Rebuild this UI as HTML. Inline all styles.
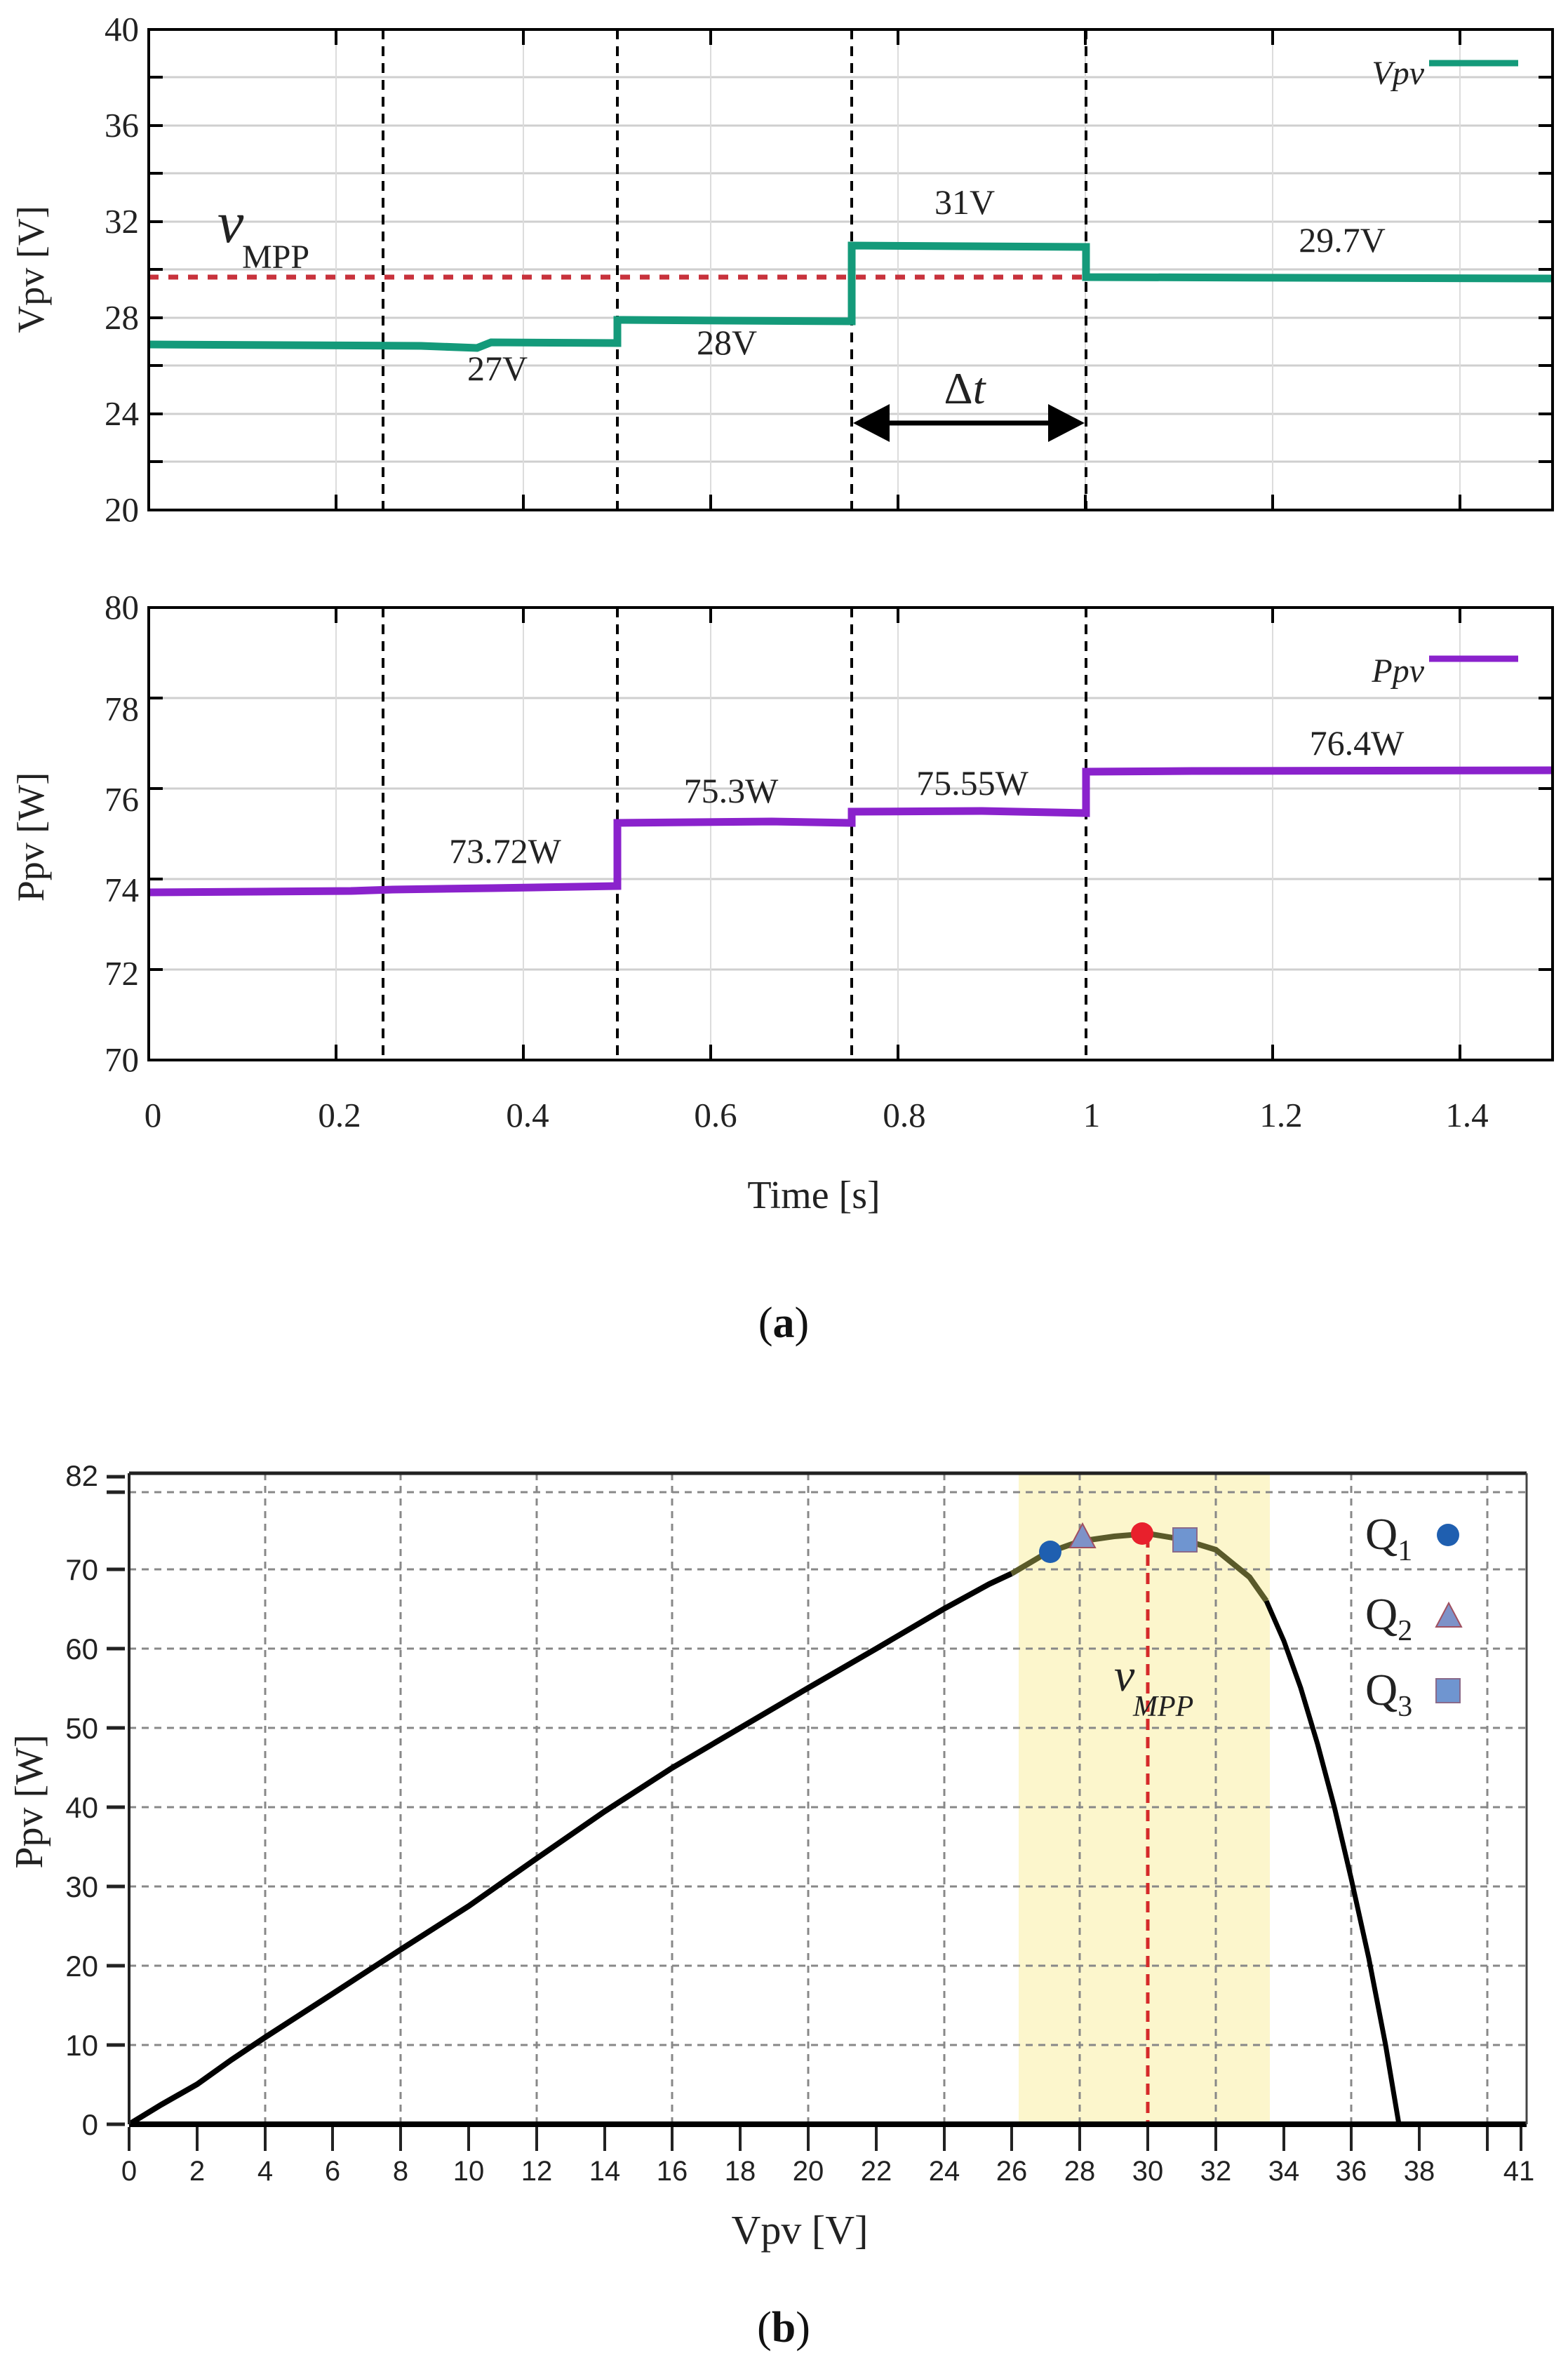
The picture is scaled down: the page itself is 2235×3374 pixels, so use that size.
<!DOCTYPE html>
<html><head><meta charset="utf-8"><style>html,body{margin:0;padding:0;background:#fff}svg{display:block}</style></head>
<body>
<svg width="2235" height="3374" viewBox="0 0 2235 3374" xmlns="http://www.w3.org/2000/svg">
<rect width="2235" height="3374" fill="#fff"/>
<!-- ===== TOP CHART (Vpv) ===== -->
<g stroke="#cfcfcf" stroke-width="3">
<line x1="212" y1="110" x2="2213" y2="110"/><line x1="212" y1="179" x2="2213" y2="179"/><line x1="212" y1="247" x2="2213" y2="247"/><line x1="212" y1="316" x2="2213" y2="316"/><line x1="212" y1="384" x2="2213" y2="384"/><line x1="212" y1="453" x2="2213" y2="453"/><line x1="212" y1="521" x2="2213" y2="521"/><line x1="212" y1="590" x2="2213" y2="590"/><line x1="212" y1="658" x2="2213" y2="658"/>
</g>
<g stroke="#dcdcdc" stroke-width="2">
<line x1="479" y1="42" x2="479" y2="727"/><line x1="746" y1="42" x2="746" y2="727"/><line x1="1013" y1="42" x2="1013" y2="727"/><line x1="1280" y1="42" x2="1280" y2="727"/><line x1="1547" y1="42" x2="1547" y2="727"/><line x1="1814" y1="42" x2="1814" y2="727"/><line x1="2081" y1="42" x2="2081" y2="727"/>
</g>
<g stroke="#000" stroke-width="4">
<line x1="212" y1="110" x2="232" y2="110"/><line x1="212" y1="179" x2="232" y2="179"/><line x1="212" y1="247" x2="232" y2="247"/><line x1="212" y1="316" x2="232" y2="316"/><line x1="212" y1="384" x2="232" y2="384"/><line x1="212" y1="453" x2="232" y2="453"/><line x1="212" y1="521" x2="232" y2="521"/><line x1="212" y1="590" x2="232" y2="590"/><line x1="212" y1="658" x2="232" y2="658"/>
<line x1="2193" y1="110" x2="2213" y2="110"/><line x1="2193" y1="179" x2="2213" y2="179"/><line x1="2193" y1="247" x2="2213" y2="247"/><line x1="2193" y1="316" x2="2213" y2="316"/><line x1="2193" y1="384" x2="2213" y2="384"/><line x1="2193" y1="453" x2="2213" y2="453"/><line x1="2193" y1="521" x2="2213" y2="521"/><line x1="2193" y1="590" x2="2213" y2="590"/><line x1="2193" y1="658" x2="2213" y2="658"/>
<line x1="479" y1="42" x2="479" y2="64"/><line x1="746" y1="42" x2="746" y2="64"/><line x1="1013" y1="42" x2="1013" y2="64"/><line x1="1280" y1="42" x2="1280" y2="64"/><line x1="1547" y1="42" x2="1547" y2="64"/><line x1="1814" y1="42" x2="1814" y2="64"/><line x1="2081" y1="42" x2="2081" y2="64"/>
<line x1="479" y1="705" x2="479" y2="727"/><line x1="746" y1="705" x2="746" y2="727"/><line x1="1013" y1="705" x2="1013" y2="727"/><line x1="1280" y1="705" x2="1280" y2="727"/><line x1="1547" y1="705" x2="1547" y2="727"/><line x1="1814" y1="705" x2="1814" y2="727"/><line x1="2081" y1="705" x2="2081" y2="727"/>
</g>
<g stroke="#000" stroke-width="4" stroke-dasharray="14,10">
<line x1="546" y1="42" x2="546" y2="727"/><line x1="880" y1="42" x2="880" y2="727"/><line x1="1214" y1="42" x2="1214" y2="727"/><line x1="1548" y1="42" x2="1548" y2="727"/>
</g>
<line x1="212" y1="395" x2="2213" y2="395" stroke="#c8323c" stroke-width="7" stroke-dasharray="14,14"/>
<path d="M212,491 L600,493 L680,496 L700,488 L880,489 L880,456 L1214,458 L1214,350 L1548,352 L1548,395 L2213,397" fill="none" stroke="#149a7a" stroke-width="11"/>
<rect x="212" y="42" width="2001" height="685" fill="none" stroke="#000" stroke-width="4"/>
<g font-family="Liberation Serif, serif" font-size="49" fill="#222" text-anchor="end">
<text x="198" y="58">40</text><text x="198" y="195">36</text><text x="198" y="332">32</text><text x="198" y="469">28</text><text x="198" y="606">24</text><text x="198" y="743">20</text>
</g>
<text transform="translate(62,384) rotate(-90)" font-family="Liberation Serif, serif" font-size="54" fill="#222" text-anchor="middle">Vpv [V]</text>
<g font-family="Liberation Serif, serif" font-size="50" fill="#222" text-anchor="middle">
<text x="709" y="542">27V</text><text x="1036" y="505">28V</text><text x="1375" y="305">31V</text><text x="1913" y="359">29.7V</text>
</g>
<text x="310" y="345" font-family="Liberation Serif, serif" font-size="84" font-style="italic" fill="#222">v</text>
<text x="345" y="382" font-family="Liberation Serif, serif" font-size="48" fill="#222">MPP</text>
<text x="1375" y="575" font-family="Liberation Serif, serif" font-size="64" fill="#222" text-anchor="middle">Δ<tspan font-style="italic">t</tspan></text>
<line x1="1260" y1="603" x2="1500" y2="603" stroke="#000" stroke-width="7"/>
<polygon points="1216,603 1268,576 1268,630" fill="#000"/>
<polygon points="1546,603 1494,576 1494,630" fill="#000"/>
<text x="2030" y="120" font-family="Liberation Serif, serif" font-size="48" font-style="italic" fill="#222" text-anchor="end">Vpv</text>
<line x1="2037" y1="90" x2="2164" y2="90" stroke="#149a7a" stroke-width="9"/>

<!-- ===== MIDDLE CHART (Ppv) ===== -->
<g stroke="#cfcfcf" stroke-width="3">
<line x1="212" y1="995" x2="2213" y2="995"/><line x1="212" y1="1124" x2="2213" y2="1124"/><line x1="212" y1="1253" x2="2213" y2="1253"/><line x1="212" y1="1382" x2="2213" y2="1382"/>
</g>
<g stroke="#dcdcdc" stroke-width="2">
<line x1="479" y1="866" x2="479" y2="1511"/><line x1="746" y1="866" x2="746" y2="1511"/><line x1="1013" y1="866" x2="1013" y2="1511"/><line x1="1280" y1="866" x2="1280" y2="1511"/><line x1="1814" y1="866" x2="1814" y2="1511"/><line x1="2081" y1="866" x2="2081" y2="1511"/>
</g>
<g stroke="#000" stroke-width="4">
<line x1="212" y1="995" x2="232" y2="995"/><line x1="212" y1="1124" x2="232" y2="1124"/><line x1="212" y1="1253" x2="232" y2="1253"/><line x1="212" y1="1382" x2="232" y2="1382"/>
<line x1="2193" y1="995" x2="2213" y2="995"/><line x1="2193" y1="1124" x2="2213" y2="1124"/><line x1="2193" y1="1253" x2="2213" y2="1253"/><line x1="2193" y1="1382" x2="2213" y2="1382"/>
<line x1="479" y1="866" x2="479" y2="888"/><line x1="746" y1="866" x2="746" y2="888"/><line x1="1013" y1="866" x2="1013" y2="888"/><line x1="1280" y1="866" x2="1280" y2="888"/><line x1="1814" y1="866" x2="1814" y2="888"/><line x1="2081" y1="866" x2="2081" y2="888"/>
<line x1="479" y1="1489" x2="479" y2="1511"/><line x1="746" y1="1489" x2="746" y2="1511"/><line x1="1013" y1="1489" x2="1013" y2="1511"/><line x1="1280" y1="1489" x2="1280" y2="1511"/><line x1="1814" y1="1489" x2="1814" y2="1511"/><line x1="2081" y1="1489" x2="2081" y2="1511"/>
</g>
<g stroke="#000" stroke-width="4" stroke-dasharray="14,10">
<line x1="546" y1="866" x2="546" y2="1511"/><line x1="880" y1="866" x2="880" y2="1511"/><line x1="1214" y1="866" x2="1214" y2="1511"/><line x1="1548" y1="866" x2="1548" y2="1511"/>
</g>
<path d="M212,1272 L500,1270 L560,1268 L700,1266 L880,1263 L880,1173 L1100,1171 L1214,1173 L1214,1157 L1400,1156 L1548,1159 L1548,1100 L1700,1099 L2213,1098" fill="none" stroke="#8a22cc" stroke-width="11"/>
<rect x="212" y="866" width="2001" height="645" fill="none" stroke="#000" stroke-width="4"/>
<g font-family="Liberation Serif, serif" font-size="49" fill="#222" text-anchor="end">
<text x="198" y="882">80</text><text x="198" y="1027">78</text><text x="198" y="1156">76</text><text x="198" y="1285">74</text><text x="198" y="1404">72</text><text x="198" y="1527">70</text>
</g>
<text transform="translate(62,1193) rotate(-90)" font-family="Liberation Serif, serif" font-size="54" fill="#222" text-anchor="middle">Ppv [W]</text>
<g font-family="Liberation Serif, serif" font-size="50" fill="#222" text-anchor="middle">
<text x="720" y="1230">73.72W</text><text x="1042" y="1144">75.3W</text><text x="1386" y="1133">75.55W</text><text x="1934" y="1076">76.4W</text>
</g>
<text x="2030" y="972" font-family="Liberation Serif, serif" font-size="48" font-style="italic" fill="#222" text-anchor="end">Ppv</text>
<line x1="2037" y1="939" x2="2164" y2="939" stroke="#8a22cc" stroke-width="9"/>
<g font-family="Liberation Serif, serif" font-size="49" fill="#222" text-anchor="middle">
<text x="218" y="1606">0</text><text x="484" y="1606">0.2</text><text x="752" y="1606">0.4</text><text x="1020" y="1606">0.6</text><text x="1289" y="1606">0.8</text><text x="1556" y="1606">1</text><text x="1826" y="1606">1.2</text><text x="2091" y="1606">1.4</text>
</g>
<text x="1160" y="1722" font-family="Liberation Serif, serif" font-size="56" fill="#222" text-anchor="middle">Time [s]</text>
<text x="1117" y="1906" font-family="Liberation Serif, serif" font-size="62" fill="#111" text-anchor="middle">(<tspan font-weight="bold">a</tspan>)</text>

<!-- ===== BOTTOM CHART (b) ===== -->
<rect x="1452" y="2100" width="358" height="928" fill="#fcf6cc"/>
<g stroke="#888" stroke-width="3" stroke-dasharray="10,8">
<line x1="184" y1="2127" x2="2176" y2="2127"/><line x1="184" y1="2237" x2="2176" y2="2237"/><line x1="184" y1="2350" x2="2176" y2="2350"/><line x1="184" y1="2463" x2="2176" y2="2463"/><line x1="184" y1="2576" x2="2176" y2="2576"/><line x1="184" y1="2689" x2="2176" y2="2689"/><line x1="184" y1="2802" x2="2176" y2="2802"/><line x1="184" y1="2915" x2="2176" y2="2915"/>
<line x1="378" y1="2100" x2="378" y2="3028"/><line x1="571" y1="2100" x2="571" y2="3028"/><line x1="765" y1="2100" x2="765" y2="3028"/><line x1="958" y1="2100" x2="958" y2="3028"/><line x1="1152" y1="2100" x2="1152" y2="3028"/><line x1="1346" y1="2100" x2="1346" y2="3028"/><line x1="1539" y1="2100" x2="1539" y2="3028"/><line x1="1733" y1="2100" x2="1733" y2="3028"/><line x1="1926" y1="2100" x2="1926" y2="3028"/><line x1="2120" y1="2100" x2="2120" y2="3028"/>
</g>
<line x1="1636" y1="2190" x2="1636" y2="3028" stroke="#d52a2a" stroke-width="5" stroke-dasharray="16,10"/>
<path d="M184,3028 L230,3000 L281,2971 L330,2936 L378,2904 L474,2842 L571,2779 L668,2717 L765,2649 L862,2582 L958,2520 L1055,2463 L1152,2406 L1249,2350 L1346,2293 L1410,2258 L1442,2243" fill="none" stroke="#000" stroke-width="8"/>
<path d="M1442,2243 L1491,2214 L1539,2197 L1588,2190 L1636,2186 L1684,2194 L1733,2209 L1781,2248 L1805,2282" fill="none" stroke="#5a5a2a" stroke-width="8"/>
<path d="M1805,2282 L1830,2339 L1854,2406 L1878,2486 L1902,2576 L1926,2678 L1951,2791 L1975,2915 L1994,3028" fill="none" stroke="#000" stroke-width="7"/>
<line x1="184" y1="3028" x2="2176" y2="3028" stroke="#000" stroke-width="8"/>
<line x1="184" y1="2100" x2="2176" y2="2100" stroke="#222" stroke-width="5"/>
<line x1="184" y1="2100" x2="184" y2="3028" stroke="#222" stroke-width="4"/>
<line x1="2176" y1="2100" x2="2176" y2="3028" stroke="#444" stroke-width="3"/>
<circle cx="1497" cy="2212" r="16" fill="#1f5fb0"/>
<polygon points="1543,2172 1561,2206 1525,2206" fill="#7e92c8" stroke="#a05060" stroke-width="2"/>
<circle cx="1628" cy="2186" r="16" fill="#e8202c"/>
<rect x="1672" y="2178" width="34" height="34" fill="#6f95d0" stroke="#8a6a8a" stroke-width="2"/>
<text x="1588" y="2410" font-family="Liberation Serif, serif" font-size="66" font-style="italic" fill="#222">v</text>
<text x="1615" y="2446" font-family="Liberation Serif, serif" font-size="42" font-style="italic" fill="#222">MPP</text>
<g font-family="Liberation Serif, serif" fill="#222">
<text x="1946" y="2208" font-size="64">Q<tspan font-size="42" dy="16">1</tspan></text>
<text x="1946" y="2322" font-size="64">Q<tspan font-size="42" dy="16">2</tspan></text>
<text x="1946" y="2430" font-size="64">Q<tspan font-size="42" dy="16">3</tspan></text>
</g>
<circle cx="2064" cy="2188" r="16" fill="#1f5fb0"/>
<polygon points="2065,2285 2083,2319 2047,2319" fill="#7e92c8" stroke="#a05060" stroke-width="2"/>
<rect x="2047" y="2393" width="34" height="34" fill="#6f95d0" stroke="#8a6a8a" stroke-width="2"/>
<g stroke="#222" stroke-width="5">
<line x1="152" y1="2105" x2="178" y2="2105"/><line x1="152" y1="2127" x2="178" y2="2127"/><line x1="152" y1="2237" x2="178" y2="2237"/><line x1="152" y1="2350" x2="178" y2="2350"/><line x1="152" y1="2463" x2="178" y2="2463"/><line x1="152" y1="2576" x2="178" y2="2576"/><line x1="152" y1="2689" x2="178" y2="2689"/><line x1="152" y1="2802" x2="178" y2="2802"/><line x1="152" y1="2915" x2="178" y2="2915"/><line x1="152" y1="3028" x2="178" y2="3028"/>
</g>
<g stroke="#222" stroke-width="4">
<line x1="184" y1="3032" x2="184" y2="3066"/><line x1="281" y1="3032" x2="281" y2="3066"/><line x1="378" y1="3032" x2="378" y2="3066"/><line x1="474" y1="3032" x2="474" y2="3066"/><line x1="571" y1="3032" x2="571" y2="3066"/><line x1="668" y1="3032" x2="668" y2="3066"/><line x1="765" y1="3032" x2="765" y2="3066"/><line x1="862" y1="3032" x2="862" y2="3066"/><line x1="958" y1="3032" x2="958" y2="3066"/><line x1="1055" y1="3032" x2="1055" y2="3066"/><line x1="1152" y1="3032" x2="1152" y2="3066"/><line x1="1249" y1="3032" x2="1249" y2="3066"/><line x1="1346" y1="3032" x2="1346" y2="3066"/><line x1="1442" y1="3032" x2="1442" y2="3066"/><line x1="1539" y1="3032" x2="1539" y2="3066"/><line x1="1636" y1="3032" x2="1636" y2="3066"/><line x1="1733" y1="3032" x2="1733" y2="3066"/><line x1="1830" y1="3032" x2="1830" y2="3066"/><line x1="1926" y1="3032" x2="1926" y2="3066"/><line x1="2023" y1="3032" x2="2023" y2="3066"/><line x1="2120" y1="3032" x2="2120" y2="3066"/><line x1="2168" y1="3032" x2="2168" y2="3066"/>
</g>
<g font-family="Liberation Sans, sans-serif" font-size="42" fill="#222" text-anchor="end">
<text x="140" y="2118">82</text><text x="140" y="2252">70</text><text x="140" y="2365">60</text><text x="140" y="2478">50</text><text x="140" y="2591">40</text><text x="140" y="2704">30</text><text x="140" y="2817">20</text><text x="140" y="2930">10</text><text x="140" y="3043">0</text>
</g>
<g font-family="Liberation Sans, sans-serif" font-size="40" fill="#222" text-anchor="middle">
<text x="184" y="3108">0</text><text x="281" y="3108">2</text><text x="378" y="3108">4</text><text x="474" y="3108">6</text><text x="571" y="3108">8</text><text x="668" y="3108">10</text><text x="765" y="3108">12</text><text x="862" y="3108">14</text><text x="958" y="3108">16</text><text x="1055" y="3108">18</text><text x="1152" y="3108">20</text><text x="1249" y="3108">22</text><text x="1346" y="3108">24</text><text x="1442" y="3108">26</text><text x="1539" y="3108">28</text><text x="1636" y="3108">30</text><text x="1733" y="3108">32</text><text x="1830" y="3108">34</text><text x="1926" y="3108">36</text><text x="2023" y="3108">38</text><text x="2165" y="3108">41</text>
</g>
<text transform="translate(60,2568) rotate(-90)" font-family="Liberation Serif, serif" font-size="56" fill="#222" text-anchor="middle">Ppv [W]</text>
<text x="1140" y="3198" font-family="Liberation Serif, serif" font-size="58" fill="#222" text-anchor="middle">Vpv [V]</text>
<text x="1117" y="3338" font-family="Liberation Serif, serif" font-size="62" fill="#111" text-anchor="middle">(<tspan font-weight="bold">b</tspan>)</text>
</svg>
</body></html>
